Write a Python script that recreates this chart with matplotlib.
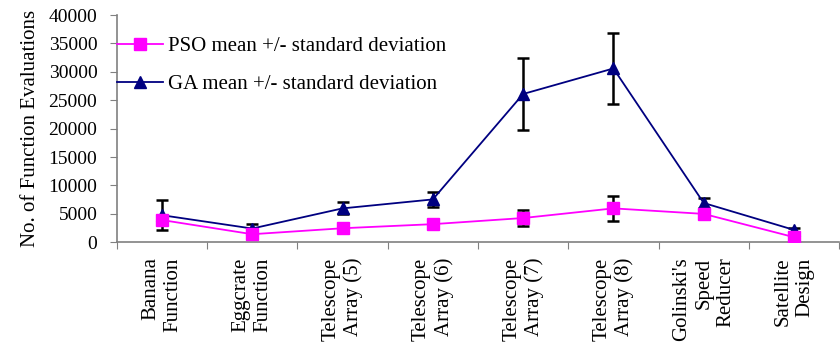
import matplotlib

matplotlib.use("Agg")

import matplotlib.pyplot as plt
from matplotlib.lines import Line2D
import numpy as np

plt.rcParams["font.family"] = ["Liberation Serif", "DejaVu Serif"]

problems = [
    "Banana\nFunction",
    "Eggcrate\nFunction",
    "Telescope\nArray (5)",
    "Telescope\nArray (6)",
    "Telescope\nArray (7)",
    "Telescope\nArray (8)",
    "Golinski's\nSpeed\nReducer",
    "Satellite\nDesign",
]

# mean and standard deviation of function evaluations
pso_mean = [3900, 1400, 2450, 3170, 4250, 5950, 4980, 880]
pso_std = [0, 0, 0, 0, 1410, 2200, 0, 0]
ga_mean = [4750, 2400, 5950, 7530, 26100, 30600, 6900, 2160]
ga_std = [2630, 820, 1050, 1270, 6330, 6200, 900, 350]

pso_color = "#FF00FF"
ga_color = "#000080"
grey = "#808080"
x = np.arange(len(problems))

fig = plt.figure(figsize=(8.4, 3.43), dpi=100)
ax = fig.add_axes([0.139, 0.294, 0.860, 0.662])

ax.errorbar(x, ga_mean, yerr=ga_std, color=ga_color, marker="^", markersize=8,
            linewidth=1.3, ecolor="black", elinewidth=1.8, capsize=4, capthick=1.8,
            zorder=3)
ax.errorbar(x, pso_mean, yerr=pso_std, color=pso_color, marker="s", markersize=8,
            linewidth=1.3, ecolor="black", elinewidth=1.8, capsize=4, capthick=1.8,
            zorder=4)

ax.set_xlim(-0.5, len(problems) - 0.5)
ax.set_ylim(0, 40000)
ax.set_yticks(np.arange(0, 40001, 5000))
ax.tick_params(axis="y", labelsize=14, length=5, color=grey, pad=9)

# category boundaries carry the tick marks, names sit between them
ax.set_xticks(np.arange(-0.5, len(problems), 1.0))
ax.set_xticklabels([])
ax.tick_params(axis="x", which="major", length=5, color=grey)
ax.set_xticks(x, minor=True)
ax.set_xticklabels(problems, minor=True, rotation=90, fontsize=15,
                   va="top", ha="center", multialignment="right")
ax.tick_params(axis="x", which="minor", length=0, pad=11)

for side in ["top", "right"]:
    ax.spines[side].set_visible(False)
for side in ["left", "bottom"]:
    ax.spines[side].set_color(grey)
    ax.spines[side].set_linewidth(1.2)

ax.set_ylabel("No. of Function Evaluations", fontsize=15, labelpad=6)

handles = [
    Line2D([], [], color=pso_color, marker="s", markersize=8, linewidth=1.3),
    Line2D([], [], color=ga_color, marker="^", markersize=8, linewidth=1.3),
]
labels = ["PSO mean +/- standard deviation", "GA mean +/- standard deviation"]
ax.legend(handles, labels, loc="upper left", bbox_to_anchor=(0.0, 0.907),
          frameon=False, fontsize=15, handlelength=2.2, handletextpad=0.25,
          labelspacing=0.9, borderaxespad=0, borderpad=0)

fig.savefig("out.png", dpi=100)
